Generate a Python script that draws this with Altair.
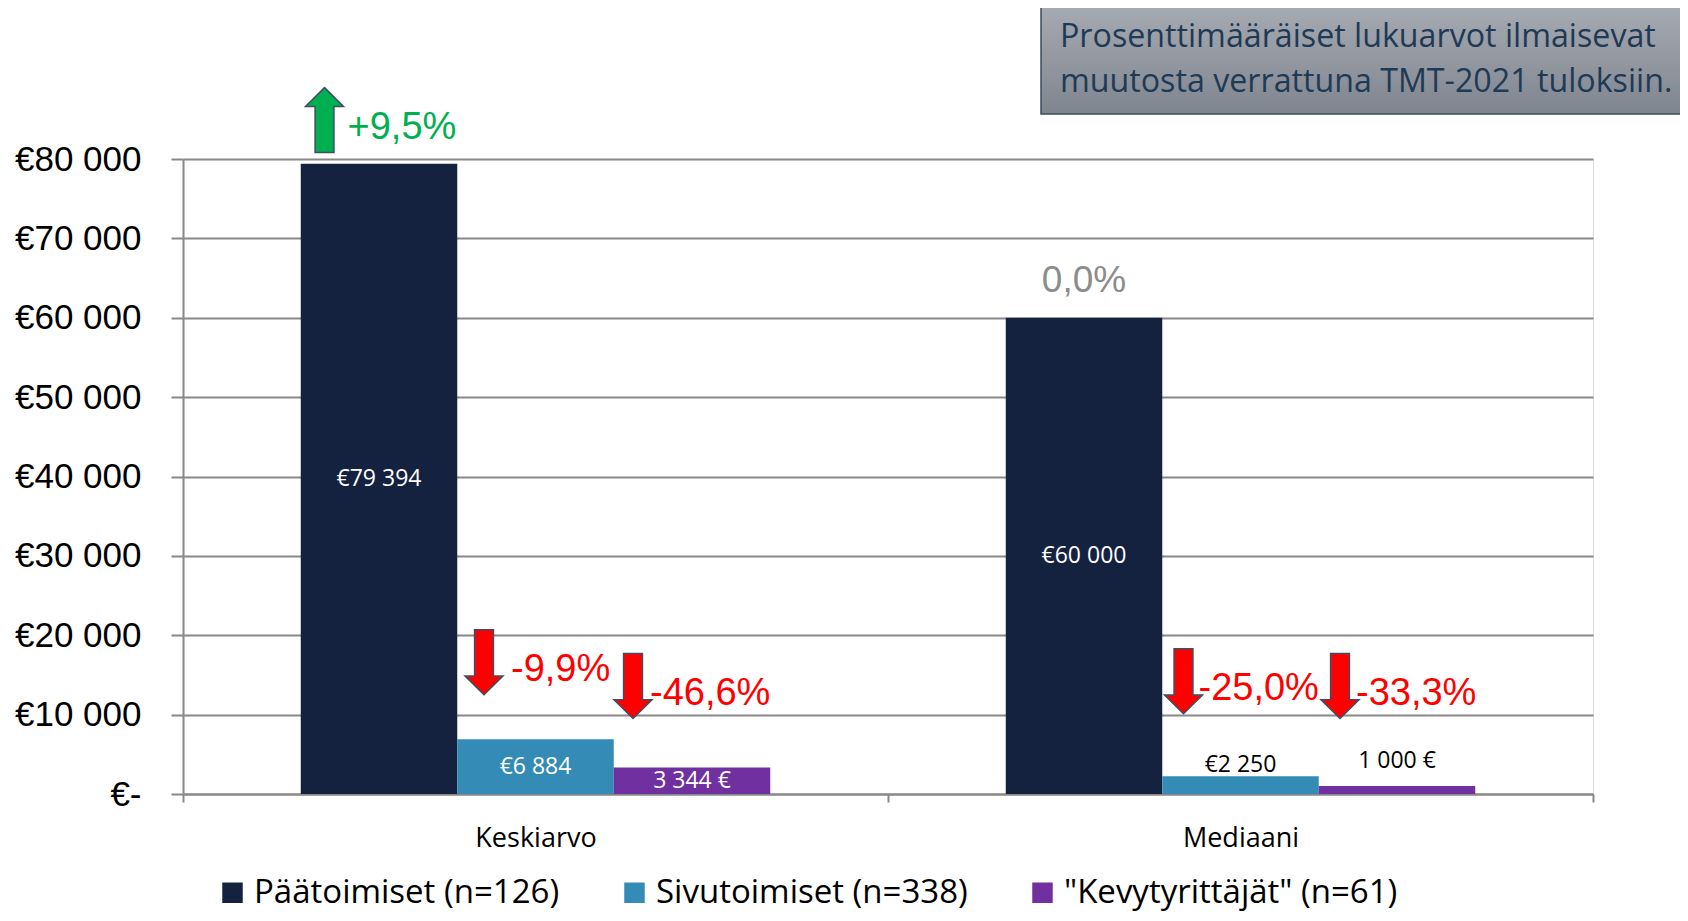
import altair as alt
import pandas as pd

# ---------------- data ----------------
categories = ["Keskiarvo", "Mediaani"]
series = ["Päätoimiset (n=126)", "Sivutoimiset (n=338)", "\"Kevytyrittäjät\" (n=61)"]
mean_values = [79394, 6884, 3344]
median_values = [60000, 2250, 1000]
mean_labels = ["€79 394", "€6 884", "3 344 €"]
median_labels = ["€60 000", "€2 250", "1 000 €"]
mean_changes = ["+9,5%", "-9,9%", "-46,6%"]
median_changes = ["0,0%", "-25,0%", "-33,3%"]
y_ticks = [0, 10000, 20000, 30000, 40000, 50000, 60000, 70000, 80000]
note_lines = ["Prosenttimääräiset lukuarvot ilmaisevat",
              "muutosta verrattuna TMT-2021 tuloksiin."]
colors = ["#15223f", "#348bb6", "#7030a0"]

# ---------------- annotation layout (same order as rows) ----------------
arrow_height = [84900, 16600, 13600, None, 14200, 13600]
arrow_shift = [-54.5, -51.5, -59, None, -57, -57]
change_dx = [-31.5, -24.5, -42, 0, -42, -41]
zero_change_height = 64600
outside_dy = {"€2 250": -11, "1 000 €": -25}

rows = []
for cat, vals, labs, chs in zip(categories, [mean_values, median_values],
                                [mean_labels, median_labels],
                                [mean_changes, median_changes]):
    for si, s in enumerate(series):
        rows.append(dict(category=cat, series=s, value=vals[si],
                         label=labs[si], change=chs[si]))
df = pd.DataFrame(rows)

W, H = 1410, 635

x_enc = alt.X("category:N", sort=categories,
              scale=alt.Scale(paddingInner=0, paddingOuter=0),
              axis=alt.Axis(title=None, labelAngle=0, tickBand="extent",
                            domainColor="#888888", domainWidth=2,
                            tickColor="#888888", tickWidth=2, tickSize=8,
                            labelFont="Open Sans", labelFontSize=27,
                            labelColor="black", labelPadding=23, grid=False))
xo_enc = alt.XOffset("series:N", sort=series,
                     scale=alt.Scale(paddingInner=0, paddingOuter=0.7525))
y_enc = alt.Y("value:Q",
              scale=alt.Scale(domain=[0, 80000], nice=False),
              axis=alt.Axis(title=None, values=y_ticks,
                            labelExpr="datum.value == 0 ? '€-' : '€' + replace(format(datum.value, ','), ',', ' ')",
                            labelFont="Liberation Sans", labelFontSize=35,
                            labelColor="black", labelPadding=30,
                            domainColor="#888888", domainWidth=2,
                            tickColor="#888888", tickWidth=2, tickSize=12,
                            gridColor="#888888", gridWidth=2, grid=True))

base = alt.Chart(df)

bars = base.mark_bar().encode(
    x=x_enc, xOffset=xo_enc, y=y_enc,
    color=alt.Color("series:N", sort=series,
                    scale=alt.Scale(domain=series, range=colors),
                    legend=alt.Legend(title=None, orient="none",
                                      legendX=33, legendY=717,
                                      direction="horizontal", columns=3,
                                      symbolType="square", symbolSize=420,
                                      symbolStrokeWidth=0,
                                      labelFont="Open Sans", labelFontSize=33,
                                      labelColor="black", labelOffset=5,
                                      columnPadding=58, labelLimit=600)),
)

inside = base.transform_filter("datum.value > 3000").transform_calculate(
    mid="datum.value / 2").mark_text(
    font="Open Sans", fontSize=23, color="white", baseline="middle").encode(
    x=alt.X("category:N", sort=categories), xOffset=alt.XOffset("series:N", sort=series),
    y=alt.Y("mid:Q"), text="label:N")

layers = [bars, inside]

for lab, dy in outside_dy.items():
    layers.append(
        base.transform_filter(alt.datum.label == lab).mark_text(
            font="Open Sans", fontSize=23, color="black", baseline="middle", dy=dy
        ).encode(x=alt.X("category:N", sort=categories),
                 xOffset=alt.XOffset("series:N", sort=series),
                 y=alt.Y("value:Q"), text="label:N"))


def arrow_path(shift, up):
    s = shift / 32.5
    hw, sw, hh = 0.585, 0.29, 0.42
    if up:
        pts = [(s, -1), (s + hw, -hh), (s + sw, -hh), (s + sw, 1),
               (s - sw, 1), (s - sw, -hh), (s - hw, -hh)]
    else:
        pts = [(s, 1), (s + hw, hh), (s + sw, hh), (s + sw, -1),
               (s - sw, -1), (s - sw, hh), (s - hw, hh)]
    return "M" + " L".join(f"{x:.3f},{y:.3f}" for x, y in pts) + " Z"


for i, r in df.iterrows():
    ch = r["change"]
    one = pd.DataFrame([r])
    if arrow_height[i] is None:
        one["ypos"] = zero_change_height
        layers.append(alt.Chart(one).mark_text(
            font="Liberation Sans", fontSize=37, color="#8c8c8c",
            align="center", baseline="middle").encode(
            x=alt.X("category:N", sort=categories),
            xOffset=alt.XOffset("series:N", sort=series),
            y=alt.Y("ypos:Q"), text="change:N"))
        continue
    up = ch.startswith("+")
    col = "#00b050" if up else "#ff0000"
    one["ypos"] = arrow_height[i]
    layers.append(alt.Chart(one).mark_point(
        shape=arrow_path(arrow_shift[i], up), size=4225, filled=True,
        fill=col, stroke="#3f4f63", strokeWidth=1.5, opacity=1).encode(
        x=alt.X("category:N", sort=categories),
        xOffset=alt.XOffset("series:N", sort=series),
        y=alt.Y("ypos:Q")))
    layers.append(alt.Chart(one).mark_text(
        font="Liberation Sans", fontSize=38, color=col, align="left",
        baseline="middle", dx=change_dx[i], dy=8).encode(
        x=alt.X("category:N", sort=categories),
        xOffset=alt.XOffset("series:N", sort=series),
        y=alt.Y("ypos:Q"), text="change:N"))

dummy = alt.Chart(pd.DataFrame({"k": [0]}))
note_box = dummy.mark_rect(
    fill=alt.Gradient(gradient="linear",
                      stops=[alt.GradientStop(color="#a7abb3", offset=0),
                             alt.GradientStop(color="#7f858f", offset=1)],
                      x1=0, x2=0, y1=0, y2=1),
    stroke="#3c4b5e", strokeWidth=1.5).encode(
    x=alt.value(858), x2=alt.value(1530), y=alt.value(-156), y2=alt.value(-45))
layers.append(note_box)
for line, yb in zip(note_lines, [-112, -67]):
    layers.append(dummy.mark_text(
        font="Open Sans", fontSize=32.2, color="#1f3a55", align="left",
        baseline="alphabetic", text=line).encode(
        x=alt.value(877), y=alt.value(yb)))

chart = alt.layer(*layers).properties(
    width=W, height=H,
    autosize=alt.AutoSizeParams(type="none"),
    padding={"left": 175, "top": 151, "right": 87, "bottom": 119},
).configure_view(stroke=None).configure(background="white")

chart.save("out.html", embed_options={"renderer": "svg", "actions": False})
